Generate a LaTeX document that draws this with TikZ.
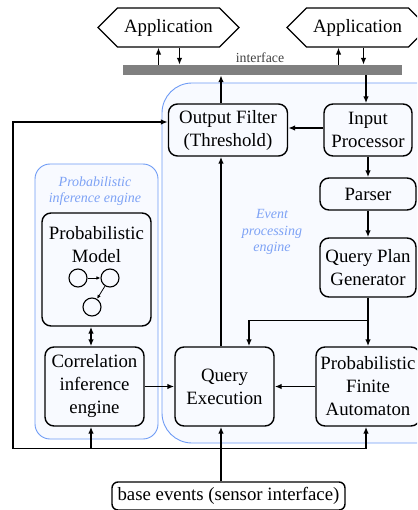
\documentclass[tikz,border=0pt]{standalone}
\usepackage{fontspec}
\setmainfont{Liberation Serif}
\usepackage{tikz}
\usetikzlibrary{positioning, shapes.symbols, arrows.meta}

\definecolor{engineblue}{RGB}{110,155,245}
\definecolor{enginefill}{RGB}{248,250,255}
\definecolor{labelblue}{RGB}{125,162,245}
\definecolor{bargray}{RGB}{128,128,128}

\tikzset{
  block/.style={draw, rounded corners=9pt, line width=1.4pt},
  app/.style={draw, shape=signal, signal to=west and east, signal from=nowhere,
    signal pointer angle=90, line width=1.1pt, minimum width=141pt, minimum height=39pt},
  engine/.style={draw=engineblue, fill=enginefill, line width=0.9pt},
  enginelabel/.style={text=labelblue, font=\fontsize{14}{16.5}\selectfont\itshape},
  dot/.style={draw, circle, line width=1.1pt, minimum size=18pt, inner sep=0pt},
}

\begin{document}
\begin{tikzpicture}[x=1pt, y=1pt, node distance=64pt, >={Latex[length=7pt,width=5.5pt]},
  every node/.style={align=center, font=\fontsize{18.8}{23}\selectfont}]

  \clip (0,0) rectangle (417,-510);

  % Engines (drawn first, behind the blocks)
  \draw[engine, rounded corners=15pt] (35,-164) rectangle (158,-439);
  \draw[engine, rounded corners=30pt] (162,-83) rectangle (450,-443);
  \node (pielabel) [enginelabel] at (95,-191) {Probabilistic\\inference engine};
  \node (epelabel) [enginelabel] at (272,-232) {Event\\processing\\engine};

  % Applications and interface
  \node (app1) [app] at (168.5,-27.5) {Application};
  \node (app2) [app, right of=app1, node distance=189pt] {Application};
  \node (bar) [fill=bargray, minimum width=279pt, minimum height=10pt, inner sep=0pt] at (262.5,-70) {};
  \node (iface) [inner sep=0pt, font=\fontsize{13.8}{16}\selectfont, text=black!75] at (260,-58) {interface};

  % Blocks
  \node (filter) [block, minimum width=119pt, minimum height=52pt] at (228,-130) {Output Filter\\(Threshold)};
  \node (input) [block, right of=filter, node distance=140pt, minimum width=88pt, minimum height=52pt] {Input\\Processor};
  \node (parser) [block, below of=input, minimum width=96pt, minimum height=32pt] {Parser};
  \node (qpg) [block, below of=parser, node distance=73.5pt, minimum width=96pt, minimum height=59pt] {Query Plan\\Generator};
  \node (pfa) [block, below of=qpg, node distance=119pt, minimum width=104pt, minimum height=79pt] {Probabilistic\\Finite\\Automaton};
  \node (qexec) [block, left of=pfa, node distance=143.5pt, minimum width=99pt, minimum height=79pt] {Query\\Execution};
  \node (corr) [block, left of=qexec, node distance=130pt, minimum width=99pt, minimum height=79pt] {Correlation\\inference\\engine};
  \node (model) [block, above of=corr, node distance=117pt, xshift=2pt, minimum width=109pt, minimum height=113pt] {};
  \node (modeltitle) at ([yshift=-32pt]model.north) {Probabilistic\\Model};
  \node (base) [block, below of=qexec, node distance=109.5pt, xshift=4pt, rounded corners=6pt,
    minimum width=233pt, minimum height=28pt] {base events (sensor interface)};

  % Small graph inside the model
  \node (m1) [dot] at ([xshift=-18.5pt, yshift=-8.5pt]model.center) {};
  \node (m2) [dot, right of=m1, node distance=32pt] {};
  \node (m3) [dot, below of=m1, node distance=29pt, xshift=14pt] {};
  \draw[-{Latex[length=4pt,width=3.5pt]}, line width=0.8pt] (m1) -- (m2);
  \draw[-{Latex[length=4pt,width=3.5pt]}, line width=0.8pt] (m2) -- (m3);

  % Arrows
  \begin{scope}[line width=1.4pt]
    \draw[->] ([xshift=-10pt]app1.south |- bar.north) -- ([xshift=-10pt]app1.south);
    \draw[->] ([xshift=11pt]app1.south) -- ([xshift=11pt]app1.south |- bar.north);
    \draw[->] ([xshift=-19pt]app2.south |- bar.north) -- ([xshift=-19pt]app2.south);
    \draw[->] ([xshift=6pt]app2.south) -- ([xshift=6pt]app2.south |- bar.north);

    \draw[->] ([xshift=-7pt]filter.north) -- ([xshift=-7pt]filter.north |- bar.south);
    \draw[->] ([xshift=-2pt]input.north |- bar.south) -- ([xshift=-2pt]input.north);
    \draw[->] ([yshift=2pt]input.west) -- ([yshift=2pt]input.west -| filter.east);
    \draw[->] (input) -- (parser);
    \draw[->] (parser) -- (qpg);
    \draw[->] (qpg) -- (pfa);
    \coordinate[below=23pt of qpg.south] (split);
    \draw[->] (split) -| ([xshift=24.5pt]qexec.north);
    \draw[->] ([xshift=-3.5pt]qexec.north) -- ([xshift=-3.5pt]qexec.north |- filter.south);
    \draw[->] (pfa) -- (qexec);
    \draw[->] (corr) -- (qexec);
    \draw[<->] ([xshift=-3.5pt]corr.north |- model.south) -- ([xshift=-3.5pt]corr.north);

    % base events and the feedback bus
    \draw[->] ([xshift=-3.5pt]qexec.south |- base.north) -- ([xshift=-3.5pt]qexec.south);
    \coordinate (hub) at ([xshift=-3.5pt, yshift=-22pt]qexec.south);
    \draw[->] (hub) -| ([xshift=-2pt]pfa.south);
    \draw[->] (hub) -| ([xshift=-3.5pt]corr.south);
    \draw[->] (hub) -- ++(-208pt,0) |- ([yshift=8pt]filter.west);
  \end{scope}

\end{tikzpicture}
\end{document}
